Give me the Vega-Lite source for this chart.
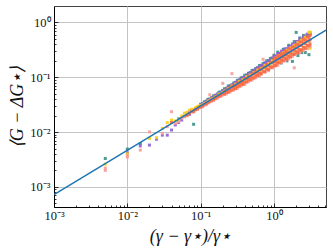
{
"$schema": "https://vega.github.io/schema/vega-lite/v6.json",
"width": 272, "height": 201,
"autosize": {"type": "none"},
"padding": {"left": 54, "top": 6, "right": 7, "bottom": 44},
"background": "white",
"config": {
  "view": {"stroke": "#444", "strokeWidth": 1},
  "axis": {
    "domainColor": "black", "domainWidth": 1, "tickColor": "black", "tickWidth": 0.8,
    "labelFont": "Liberation Serif", "labelFontSize": 12.5, "labelColor": "#111",
    "titleFont": "Liberation Serif", "titleFontSize": 18, "titleFontWeight": "normal", "titleColor": "#111",
    "gridColor": "#c4c4c4", "gridWidth": 1, "labelFlush": false, "labelOverlap": false
  }
},
"datasets": {
"line": [{"x": 0.001, "y": 0.000724}, {"x": 5.1, "y": 0.729}],
"pts": [
{"s":"T","x":0.005,"y":0.0033},{"s":"T","x":0.01,"y":0.0049},{"s":"T","x":0.015,"y":0.0062},{"s":"T","x":0.05,"y":0.0175},{"s":"T","x":0.08,"y":0.0139},
{"s":"T","x":0.1,"y":0.0323},{"s":"T","x":0.106,"y":0.0332},{"s":"T","x":0.112,"y":0.0357},{"s":"T","x":0.119,"y":0.0368},{"s":"T","x":0.126,"y":0.0397},{"s":"T","x":0.133,"y":0.04},{"s":"T","x":0.141,"y":0.0427},{"s":"T","x":0.15,"y":0.046},{"s":"T","x":0.158,"y":0.0464},{"s":"T","x":0.168,"y":0.0496},{"s":"T","x":0.178,"y":0.0534},{"s":"T","x":0.188,"y":0.0539},{"s":"T","x":0.2,"y":0.0576},{"s":"T","x":0.211,"y":0.0619},{"s":"T","x":0.224,"y":0.0625},{"s":"T","x":0.237,"y":0.0692},{"s":"T","x":0.251,"y":0.07},{"s":"T","x":0.266,"y":0.0713},{"s":"T","x":0.282,"y":0.0789},{"s":"T","x":0.299,"y":0.0797},{"s":"T","x":0.316,"y":0.0881},{"s":"T","x":0.335,"y":0.0882},{"s":"T","x":0.355,"y":0.0976},{"s":"T","x":0.376,"y":0.0978},{"s":"T","x":0.398,"y":0.1089},{"s":"T","x":0.422,"y":0.1083},{"s":"T","x":0.447,"y":0.1185},{"s":"T","x":0.473,"y":0.1199},{"s":"T","x":0.501,"y":0.1334},{"s":"T","x":0.531,"y":0.1328},{"s":"T","x":0.562,"y":0.1452},{"s":"T","x":0.596,"y":0.1471},{"s":"T","x":0.631,"y":0.1635},{"s":"T","x":0.668,"y":0.1627},{"s":"T","x":0.708,"y":0.1779},{"s":"T","x":0.75,"y":0.1803},{"s":"T","x":0.794,"y":0.2001},{"s":"T","x":0.841,"y":0.1995},{"s":"T","x":0.891,"y":0.2215},{"s":"T","x":0.944,"y":0.2209},{"s":"T","x":1.0,"y":0.2529},{"s":"T","x":1.059,"y":0.1731},{"s":"T","x":1.122,"y":0.2881},{"s":"T","x":1.189,"y":0.2683},{"s":"T","x":1.259,"y":0.1828},{"s":"T","x":1.334,"y":0.3241},{"s":"T","x":1.413,"y":0.2958},{"s":"T","x":1.496,"y":0.1994},{"s":"T","x":1.585,"y":0.3839},{"s":"T","x":1.679,"y":0.3609},{"s":"T","x":1.778,"y":0.1952},{"s":"T","x":1.884,"y":0.4481},{"s":"T","x":2.0,"y":0.66},{"s":"T","x":2.0,"y":0.2721},{"s":"T","x":2.113,"y":0.2495},{"s":"T","x":2.239,"y":0.5228},{"s":"T","x":2.371,"y":0.2817},{"s":"T","x":2.512,"y":0.5819},{"s":"T","x":2.661,"y":0.2834},{"s":"T","x":2.818,"y":0.5849},{"s":"T","x":2.985,"y":0.2592},{"s":"T","x":3.09,"y":0.6056},
{"s":"P","x":0.01,"y":0.0042},{"s":"P","x":0.015,"y":0.0056},{"s":"P","x":0.02,"y":0.0058},{"s":"P","x":0.025,"y":0.0074},{"s":"P","x":0.03,"y":0.0088},{"s":"P","x":0.035,"y":0.0088},{"s":"P","x":0.04,"y":0.0109},{"s":"P","x":0.045,"y":0.0135},{"s":"P","x":0.05,"y":0.015},{"s":"P","x":0.055,"y":0.0166},{"s":"P","x":0.06,"y":0.0195},{"s":"P","x":0.07,"y":0.021},{"s":"P","x":0.08,"y":0.0235},{"s":"P","x":0.09,"y":0.0265},
{"s":"P","x":0.1,"y":0.0314},{"s":"P","x":0.106,"y":0.0325},{"s":"P","x":0.112,"y":0.0348},{"s":"P","x":0.119,"y":0.0357},{"s":"P","x":0.126,"y":0.0386},{"s":"P","x":0.133,"y":0.0396},{"s":"P","x":0.141,"y":0.0419},{"s":"P","x":0.15,"y":0.0435},{"s":"P","x":0.158,"y":0.0469},{"s":"P","x":0.168,"y":0.0482},{"s":"P","x":0.178,"y":0.051},{"s":"P","x":0.188,"y":0.0524},{"s":"P","x":0.2,"y":0.0565},{"s":"P","x":0.211,"y":0.0586},{"s":"P","x":0.224,"y":0.0631},{"s":"P","x":0.237,"y":0.0637},{"s":"P","x":0.251,"y":0.0687},{"s":"P","x":0.266,"y":0.0733},{"s":"P","x":0.282,"y":0.074},{"s":"P","x":0.299,"y":0.0811},{"s":"P","x":0.316,"y":0.082},{"s":"P","x":0.335,"y":0.0898},{"s":"P","x":0.355,"y":0.0908},{"s":"P","x":0.376,"y":0.0996},{"s":"P","x":0.398,"y":0.1006},{"s":"P","x":0.422,"y":0.1102},{"s":"P","x":0.447,"y":0.1114},{"s":"P","x":0.473,"y":0.122},{"s":"P","x":0.501,"y":0.1223},{"s":"P","x":0.531,"y":0.1351},{"s":"P","x":0.562,"y":0.1354},{"s":"P","x":0.596,"y":0.1496},{"s":"P","x":0.631,"y":0.1501},{"s":"P","x":0.668,"y":0.1656},{"s":"P","x":0.708,"y":0.1661},{"s":"P","x":0.75,"y":0.1834},{"s":"P","x":0.794,"y":0.184},{"s":"P","x":0.841,"y":0.2029},{"s":"P","x":0.891,"y":0.2038},{"s":"P","x":0.944,"y":0.2246},{"s":"P","x":1.0,"y":0.2431},{"s":"P","x":1.059,"y":0.2404},{"s":"P","x":1.122,"y":0.271},{"s":"P","x":1.189,"y":0.2728},{"s":"P","x":1.259,"y":0.2999},{"s":"P","x":1.334,"y":0.2971},{"s":"P","x":1.413,"y":0.3318},{"s":"P","x":1.496,"y":0.3314},{"s":"P","x":1.585,"y":0.367},{"s":"P","x":1.679,"y":0.3668},{"s":"P","x":1.778,"y":0.406},{"s":"P","x":1.884,"y":0.4059},{"s":"P","x":2.0,"y":0.4489},{"s":"P","x":2.113,"y":0.4491},{"s":"P","x":2.239,"y":0.4966},{"s":"P","x":2.371,"y":0.4968},{"s":"P","x":2.512,"y":0.5491},{"s":"P","x":2.661,"y":0.5496},{"s":"P","x":2.818,"y":0.6119},{"s":"P","x":2.985,"y":0.6127},{"s":"P","x":3.09,"y":0.6444},
{"s":"Y","x":0.005,"y":0.0026},{"s":"Y","x":0.01,"y":0.004},{"s":"Y","x":0.02,"y":0.0077},{"s":"Y","x":0.025,"y":0.0079},{"s":"Y","x":0.03,"y":0.0117},{"s":"Y","x":0.035,"y":0.0149},{"s":"Y","x":0.04,"y":0.0166},{"s":"Y","x":0.045,"y":0.016},{"s":"Y","x":0.05,"y":0.0166},{"s":"Y","x":0.055,"y":0.0197},{"s":"Y","x":0.06,"y":0.0222},{"s":"Y","x":0.065,"y":0.023},{"s":"Y","x":0.07,"y":0.025},{"s":"Y","x":0.075,"y":0.026},{"s":"Y","x":0.08,"y":0.026},{"s":"Y","x":0.085,"y":0.028},{"s":"Y","x":0.09,"y":0.029},{"s":"Y","x":0.095,"y":0.03},
{"s":"Y","x":0.1,"y":0.0302},{"s":"Y","x":0.106,"y":0.0313},{"s":"Y","x":0.112,"y":0.0334},{"s":"Y","x":0.119,"y":0.034},{"s":"Y","x":0.126,"y":0.0364},{"s":"Y","x":0.133,"y":0.0377},{"s":"Y","x":0.141,"y":0.0403},{"s":"Y","x":0.15,"y":0.041},{"s":"Y","x":0.158,"y":0.0438},{"s":"Y","x":0.168,"y":0.0454},{"s":"Y","x":0.178,"y":0.0491},{"s":"Y","x":0.188,"y":0.0494},{"s":"Y","x":0.2,"y":0.0528},{"s":"Y","x":0.211,"y":0.0564},{"s":"Y","x":0.224,"y":0.0562},{"s":"Y","x":0.237,"y":0.0625},{"s":"Y","x":0.251,"y":0.063},{"s":"Y","x":0.266,"y":0.0693},{"s":"Y","x":0.282,"y":0.067},{"s":"Y","x":0.299,"y":0.0746},{"s":"Y","x":0.316,"y":0.0751},{"s":"Y","x":0.335,"y":0.0842},{"s":"Y","x":0.355,"y":0.0816},{"s":"Y","x":0.376,"y":0.0907},{"s":"Y","x":0.398,"y":0.0914},{"s":"Y","x":0.422,"y":0.1025},{"s":"Y","x":0.447,"y":0.0972},{"s":"Y","x":0.473,"y":0.1103},{"s":"Y","x":0.501,"y":0.109},{"s":"Y","x":0.531,"y":0.1223},{"s":"Y","x":0.562,"y":0.1183},{"s":"Y","x":0.596,"y":0.1356},{"s":"Y","x":0.631,"y":0.1273},{"s":"Y","x":0.668,"y":0.1459},{"s":"Y","x":0.708,"y":0.1426},{"s":"Y","x":0.75,"y":0.1649},{"s":"Y","x":0.794,"y":0.1549},{"s":"Y","x":0.841,"y":0.1776},{"s":"Y","x":0.891,"y":0.1737},{"s":"Y","x":0.944,"y":0.2004},{"s":"Y","x":1.0,"y":0.1848},{"s":"Y","x":1.059,"y":0.2241},{"s":"Y","x":1.122,"y":0.1963},{"s":"Y","x":1.189,"y":0.2504},{"s":"Y","x":1.259,"y":0.2109},{"s":"Y","x":1.334,"y":0.2799},{"s":"Y","x":1.413,"y":0.2263},{"s":"Y","x":1.496,"y":0.3125},{"s":"Y","x":1.585,"y":0.2456},{"s":"Y","x":1.679,"y":0.3461},{"s":"Y","x":1.778,"y":0.2665},{"s":"Y","x":1.884,"y":0.3831},{"s":"Y","x":2.0,"y":0.2891},{"s":"Y","x":2.113,"y":0.4277},{"s":"Y","x":2.239,"y":0.3137},{"s":"Y","x":2.371,"y":0.4773},{"s":"Y","x":2.512,"y":0.336},{"s":"Y","x":2.661,"y":0.5368},{"s":"Y","x":2.818,"y":0.3509},{"s":"Y","x":2.985,"y":0.6598},{"s":"Y","x":3.09,"y":0.3392},{"s":"Y","x":3.09,"y":0.6686},
{"s":"K","x":0.005,"y":0.0022},{"s":"K","x":0.005,"y":0.002},{"s":"K","x":0.01,"y":0.0037},{"s":"K","x":0.01,"y":0.0035},{"s":"K","x":0.015,"y":0.0047},{"s":"K","x":0.02,"y":0.0101},{"s":"K","x":0.03,"y":0.0095},{"s":"K","x":0.035,"y":0.0126},{"s":"K","x":0.04,"y":0.0236},{"s":"K","x":0.045,"y":0.0145},{"s":"K","x":0.05,"y":0.0155},{"s":"K","x":0.055,"y":0.018},{"s":"K","x":0.06,"y":0.019},{"s":"K","x":0.065,"y":0.021},{"s":"K","x":0.07,"y":0.023},{"s":"K","x":0.075,"y":0.024},{"s":"K","x":0.08,"y":0.024},{"s":"K","x":0.085,"y":0.026},{"s":"K","x":0.09,"y":0.0265},{"s":"K","x":0.095,"y":0.028},
{"s":"K","x":0.1,"y":0.0281},{"s":"K","x":0.106,"y":0.0291},{"s":"K","x":0.112,"y":0.0311},{"s":"K","x":0.119,"y":0.0316},{"s":"K","x":0.126,"y":0.0339},{"s":"K","x":0.133,"y":0.048},{"s":"K","x":0.141,"y":0.0367},{"s":"K","x":0.15,"y":0.0376},{"s":"K","x":0.158,"y":0.0407},{"s":"K","x":0.168,"y":0.0413},{"s":"K","x":0.178,"y":0.0443},{"s":"K","x":0.188,"y":0.0449},{"s":"K","x":0.2,"y":0.0776},{"s":"K","x":0.2,"y":0.0475},{"s":"K","x":0.211,"y":0.0487},{"s":"K","x":0.224,"y":0.0498},{"s":"K","x":0.237,"y":0.054},{"s":"K","x":0.251,"y":0.0541},{"s":"K","x":0.266,"y":0.1166},{"s":"K","x":0.282,"y":0.0586},{"s":"K","x":0.299,"y":0.0629},{"s":"K","x":0.316,"y":0.0628},{"s":"K","x":0.335,"y":0.0698},{"s":"K","x":0.355,"y":0.0698},{"s":"K","x":0.376,"y":0.0749},{"s":"K","x":0.398,"y":0.0748},{"s":"K","x":0.422,"y":0.0832},{"s":"K","x":0.447,"y":0.0831},{"s":"K","x":0.473,"y":0.0923},{"s":"K","x":0.501,"y":0.089},{"s":"K","x":0.531,"y":0.099},{"s":"K","x":0.562,"y":0.0988},{"s":"K","x":0.596,"y":0.11},{"s":"K","x":0.631,"y":0.1059},{"s":"K","x":0.668,"y":0.1179},{"s":"K","x":0.708,"y":0.2132},{"s":"K","x":0.75,"y":0.1233},{"s":"K","x":0.794,"y":0.1372},{"s":"K","x":0.841,"y":0.1319},{"s":"K","x":0.891,"y":0.1488},{"s":"K","x":0.944,"y":0.1485},{"s":"K","x":1.0,"y":0.1595},{"s":"K","x":1.059,"y":0.1793},{"s":"K","x":1.122,"y":0.1665},{"s":"K","x":1.189,"y":0.1901},{"s":"K","x":1.259,"y":0.1874},{"s":"K","x":1.334,"y":0.2111},{"s":"K","x":1.413,"y":0.2032},{"s":"K","x":1.496,"y":0.2263},{"s":"K","x":1.585,"y":0.2174},{"s":"K","x":1.679,"y":0.2514},{"s":"K","x":1.778,"y":0.2417},{"s":"K","x":1.884,"y":0.149},{"s":"K","x":1.884,"y":0.2727},{"s":"K","x":2.0,"y":0.2687},{"s":"K","x":2.113,"y":0.2958},{"s":"K","x":2.239,"y":0.2838},{"s":"K","x":2.371,"y":0.3208},{"s":"K","x":2.512,"y":0.3074},{"s":"K","x":2.661,"y":0.3435},{"s":"K","x":2.818,"y":0.3329},{"s":"K","x":2.985,"y":0.3723},{"s":"K","x":3.09,"y":0.3682},
{"s":"O","x":0.04,"y":0.015},{"s":"O","x":0.065,"y":0.02},{"s":"O","x":0.07,"y":0.022},{"s":"O","x":0.075,"y":0.0235},{"s":"O","x":0.08,"y":0.024},{"s":"O","x":0.085,"y":0.0255},{"s":"O","x":0.09,"y":0.0265},{"s":"O","x":0.095,"y":0.0285},
{"s":"O","x":0.1,"y":0.029},{"s":"O","x":0.106,"y":0.03},{"s":"O","x":0.112,"y":0.0321},{"s":"O","x":0.119,"y":0.033},{"s":"O","x":0.126,"y":0.0349},{"s":"O","x":0.133,"y":0.0358},{"s":"O","x":0.141,"y":0.0383},{"s":"O","x":0.15,"y":0.0397},{"s":"O","x":0.158,"y":0.0412},{"s":"O","x":0.168,"y":0.0441},{"s":"O","x":0.178,"y":0.0457},{"s":"O","x":0.188,"y":0.0474},{"s":"O","x":0.2,"y":0.0502},{"s":"O","x":0.211,"y":0.0498},{"s":"O","x":0.224,"y":0.0533},{"s":"O","x":0.237,"y":0.0534},{"s":"O","x":0.251,"y":0.0579},{"s":"O","x":0.266,"y":0.0579},{"s":"O","x":0.282,"y":0.0628},{"s":"O","x":0.299,"y":0.0621},{"s":"O","x":0.316,"y":0.0682},{"s":"O","x":0.335,"y":0.069},{"s":"O","x":0.355,"y":0.0757},{"s":"O","x":0.376,"y":0.074},{"s":"O","x":0.398,"y":0.0812},{"s":"O","x":0.422,"y":0.0822},{"s":"O","x":0.447,"y":0.0902},{"s":"O","x":0.473,"y":0.0891},{"s":"O","x":0.501,"y":0.0979},{"s":"O","x":0.531,"y":0.0967},{"s":"O","x":0.562,"y":0.1061},{"s":"O","x":0.596,"y":0.1074},{"s":"O","x":0.631,"y":0.1179},{"s":"O","x":0.668,"y":0.115},{"s":"O","x":0.708,"y":0.1279},{"s":"O","x":0.75,"y":0.1279},{"s":"O","x":0.794,"y":0.142},{"s":"O","x":0.841,"y":0.1387},{"s":"O","x":0.891,"y":0.1542},{"s":"O","x":0.944,"y":0.154},{"s":"O","x":1.0,"y":0.1673},{"s":"O","x":1.059,"y":0.163},{"s":"O","x":1.122,"y":0.1857},{"s":"O","x":1.189,"y":0.1834},{"s":"O","x":1.259,"y":0.2062},{"s":"O","x":1.334,"y":0.1989},{"s":"O","x":1.413,"y":0.2238},{"s":"O","x":1.496,"y":0.2155},{"s":"O","x":1.585,"y":0.2428},{"s":"O","x":1.679,"y":0.2337},{"s":"O","x":1.778,"y":0.2634},{"s":"O","x":1.884,"y":0.2598},{"s":"O","x":2.0,"y":0.2925},{"s":"O","x":2.113,"y":0.2816},{"s":"O","x":2.239,"y":0.3174},{"s":"O","x":2.371,"y":0.313},{"s":"O","x":2.512,"y":0.3524},{"s":"O","x":2.661,"y":0.3392},{"s":"O","x":2.818,"y":0.3824},{"s":"O","x":2.985,"y":0.377},{"s":"O","x":3.09,"y":0.407},
{"s":"O","x":0.211,"y":0.0553},{"s":"O","x":0.224,"y":0.0567},{"s":"O","x":0.237,"y":0.0613},{"s":"O","x":0.251,"y":0.0617},{"s":"O","x":0.266,"y":0.0666},{"s":"O","x":0.282,"y":0.0691},{"s":"O","x":0.299,"y":0.0702},{"s":"O","x":0.316,"y":0.0781},{"s":"O","x":0.335,"y":0.0778},{"s":"O","x":0.355,"y":0.0849},{"s":"O","x":0.376,"y":0.0837},{"s":"O","x":0.398,"y":0.0951},{"s":"O","x":0.422,"y":0.0948},{"s":"O","x":0.447,"y":0.1033},{"s":"O","x":0.473,"y":0.1019},{"s":"O","x":0.501,"y":0.1156},{"s":"O","x":0.531,"y":0.1153},{"s":"O","x":0.562,"y":0.1257},{"s":"O","x":0.596,"y":0.1241},{"s":"O","x":0.631,"y":0.1407},{"s":"O","x":0.668,"y":0.1375},{"s":"O","x":0.708,"y":0.1529},{"s":"O","x":0.75,"y":0.1526},{"s":"O","x":0.794,"y":0.1711},{"s":"O","x":0.841,"y":0.164},{"s":"O","x":0.891,"y":0.1861},{"s":"O","x":0.944,"y":0.1856},{"s":"O","x":1.0,"y":0.1945},{"s":"O","x":1.059,"y":0.1935},{"s":"O","x":1.122,"y":0.2177},{"s":"O","x":1.189,"y":0.2169},{"s":"O","x":1.259,"y":0.2413},{"s":"O","x":1.334,"y":0.2357},{"s":"O","x":1.413,"y":0.2598},{"s":"O","x":1.496,"y":0.2559},{"s":"O","x":1.585,"y":0.2879},{"s":"O","x":1.679,"y":0.2781},{"s":"O","x":1.778,"y":0.313},{"s":"O","x":1.884,"y":0.3117},{"s":"O","x":2.0,"y":0.3469},{"s":"O","x":2.113,"y":0.3386},{"s":"O","x":2.239,"y":0.3846},{"s":"O","x":2.371,"y":0.3795},{"s":"O","x":2.512,"y":0.4262},{"s":"O","x":2.661,"y":0.4122},{"s":"O","x":2.818,"y":0.4589},{"s":"O","x":2.985,"y":0.4619},{"s":"O","x":3.09,"y":0.4845},
{"s":"O","x":1.0,"y":0.2178},{"s":"O","x":1.059,"y":0.22},{"s":"O","x":1.122,"y":0.2454},{"s":"O","x":1.189,"y":0.246},{"s":"O","x":1.259,"y":0.2718},{"s":"O","x":1.334,"y":0.2676},{"s":"O","x":1.413,"y":0.3009},{"s":"O","x":1.496,"y":0.291},{"s":"O","x":1.585,"y":0.3331},{"s":"O","x":1.679,"y":0.3254},{"s":"O","x":1.778,"y":0.3595},{"s":"O","x":1.884,"y":0.3539},{"s":"O","x":2.0,"y":0.3979},{"s":"O","x":2.113,"y":0.392},{"s":"O","x":2.239,"y":0.4443},{"s":"O","x":2.371,"y":0.4381},{"s":"O","x":2.512,"y":0.4918},{"s":"O","x":2.661,"y":0.4766},{"s":"O","x":2.818,"y":0.5444},{"s":"O","x":2.985,"y":0.5373},{"s":"O","x":3.09,"y":0.5814}
]
},
"encoding": {
  "x": {"field": "x", "type": "quantitative",
    "scale": {"type": "log", "domain": [0.001, 5.1], "nice": false},
    "axis": {"title": "(γ − γ⋆)/γ⋆", "titleFontStyle": "italic",
      "values": [0.001,0.002,0.003,0.004,0.005,0.006,0.007,0.008,0.009,0.01,0.02,0.03,0.04,0.05,0.06,0.07,0.08,0.09,0.1,0.2,0.3,0.4,0.5,0.6,0.7,0.8,0.9,1,2,3,4,5],
      "labelExpr": "abs(log(datum.value)/LN10 - round(log(datum.value)/LN10)) < 0.001 ? (round(log(datum.value)/LN10) == -3 ? '10⁻³' : round(log(datum.value)/LN10) == -2 ? '10⁻²' : round(log(datum.value)/LN10) == -1 ? '10⁻¹' : '10⁰') : ''",
      "tickSize": {"condition": {"test": "abs(log(datum.value)/LN10 - round(log(datum.value)/LN10)) < 0.001", "value": -4}, "value": -2},
      "gridOpacity": {"condition": {"test": "abs(log(datum.value)/LN10 - round(log(datum.value)/LN10)) < 0.001", "value": 1}, "value": 0},
      "labelPadding": 6, "titlePadding": 4}},
  "y": {"field": "y", "type": "quantitative",
    "scale": {"type": "log", "domain": [0.00043, 2.0], "nice": false},
    "axis": {"title": "⟨G − ΔG⋆⟩", "titleFontStyle": "italic",
      "values": [0.0005,0.0006,0.0007,0.0008,0.0009,0.001,0.002,0.003,0.004,0.005,0.006,0.007,0.008,0.009,0.01,0.02,0.03,0.04,0.05,0.06,0.07,0.08,0.09,0.1,0.2,0.3,0.4,0.5,0.6,0.7,0.8,0.9,1],
      "labelExpr": "abs(log(datum.value)/LN10 - round(log(datum.value)/LN10)) < 0.001 ? (round(log(datum.value)/LN10) == -3 ? '10⁻³' : round(log(datum.value)/LN10) == -2 ? '10⁻²' : round(log(datum.value)/LN10) == -1 ? '10⁻¹' : '10⁰') : ''",
      "tickSize": {"condition": {"test": "abs(log(datum.value)/LN10 - round(log(datum.value)/LN10)) < 0.001", "value": -4}, "value": -2},
      "gridOpacity": {"condition": {"test": "abs(log(datum.value)/LN10 - round(log(datum.value)/LN10)) < 0.001", "value": 1}, "value": 0},
      "labelPadding": 8, "titlePadding": 3}}
},
"layer": [
  {"data": {"name": "pts"},
   "mark": {"type": "point", "filled": true, "shape": "square", "size": 9, "opacity": 0.9},
   "encoding": {"color": {"field": "s", "type": "nominal",
     "scale": {"domain": ["T","P","Y","K","O"], "range": ["#3a9188","#8c5fd3","#f5cf0f","#f79b9b","#fb6a42"]},
     "legend": null}}},
  {"data": {"name": "line"},
   "mark": {"type": "line", "color": "#1f77b4", "strokeWidth": 1.5, "clip": true},
   "encoding": {}}
]
}
